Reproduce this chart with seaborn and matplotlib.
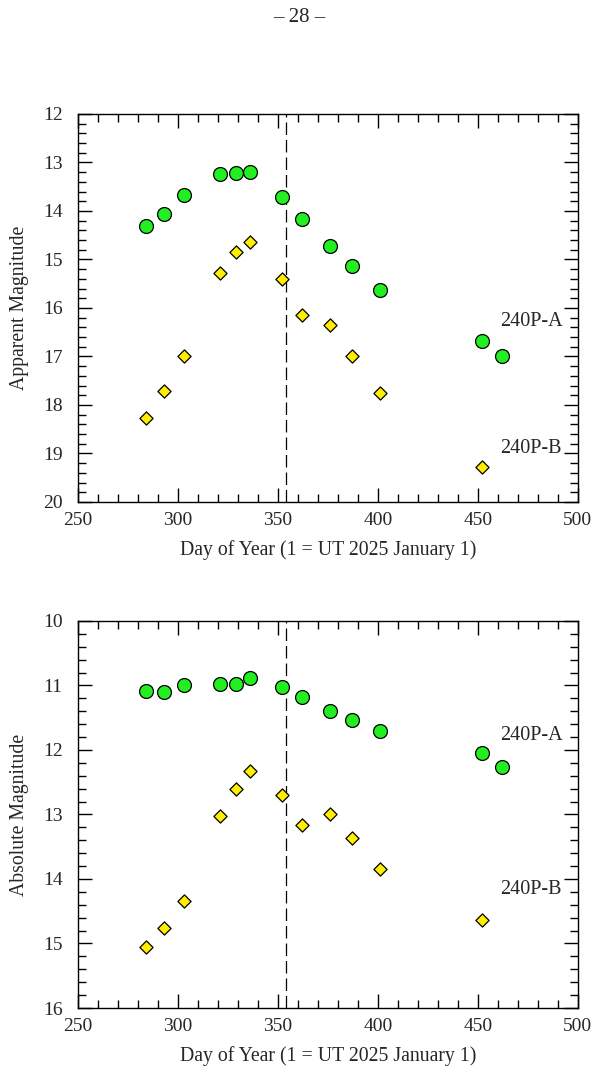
import pandas as pd
import seaborn as sns
import matplotlib.pyplot as plt
from matplotlib.ticker import MultipleLocator

# Datos (día del año, magnitudes)
dias_a = [284, 293, 303, 321, 329, 336, 352, 362, 376, 387, 401, 452, 462]
dias_b = [284, 293, 303, 321, 329, 336, 352, 362, 376, 387, 401, 452]

aparente_a = [14.31, 14.07, 13.68, 13.23, 13.21, 13.20, 13.72, 14.16, 14.73, 15.14, 15.63, 16.69, 17.00]
aparente_b = [18.27, 17.72, 17.00, 15.28, 14.84, 14.65, 15.40, 16.14, 16.35, 16.99, 17.76, 19.28]

absoluta_a = [11.08, 11.10, 10.99, 10.97, 10.98, 10.88, 11.02, 11.18, 11.39, 11.53, 11.71, 12.05, 12.26]
absoluta_b = [15.06, 14.76, 14.34, 13.03, 12.60, 12.32, 12.70, 13.16, 12.99, 13.37, 13.85, 14.64]

dia_linea = 354
paneles = [
    ("Apparent Magnitude", aparente_a, aparente_b, (20, 12), 16.28, 18.89),
    ("Absolute Magnitude", absoluta_a, absoluta_b, (16, 10), 11.78, 14.16),
]

sns.set_style("ticks")
plt.rcParams['font.family'] = ['Liberation Serif', 'DejaVu Serif']

fig = plt.figure(figsize=(5.98, 10.79), dpi=100)
fig.text(0.5, 1 - 17 / 1079, "\u2013 28 \u2013", ha="center", va="center", fontsize=15)

posiciones = [[0.1304, 0.5348, 0.836, 0.3596], [0.1304, 0.0658, 0.836, 0.3587]]

for pos, (ylab, mag_a, mag_b, ylim, ya, yb) in zip(posiciones, paneles):
    ax = fig.add_axes(pos)
    df_a = pd.DataFrame({"dia": dias_a, "mag": mag_a})
    df_b = pd.DataFrame({"dia": dias_b, "mag": mag_b})
    ax.axvline(dia_linea, color="black", lw=0.9, dashes=(10, 4), zorder=1)
    sns.scatterplot(data=df_a, x="dia", y="mag", ax=ax, marker="o", s=100,
                    color="#22ee22", edgecolor="black", linewidth=0.9, zorder=3)
    sns.scatterplot(data=df_b, x="dia", y="mag", ax=ax, marker="D", s=45,
                    color="#ffee00", edgecolor="black", linewidth=0.9, zorder=3)
    ax.text(461, ya, "240P-A", fontsize=14.5, va="center", ha="left")
    ax.text(461, yb, "240P-B", fontsize=14.5, va="center", ha="left")

    ax.set_xlim(250, 500)
    ax.set_ylim(*ylim)
    ax.xaxis.set_major_locator(MultipleLocator(50))
    ax.xaxis.set_minor_locator(MultipleLocator(10))
    ax.yaxis.set_major_locator(MultipleLocator(1))
    ax.yaxis.set_minor_locator(MultipleLocator(0.2))
    ax.tick_params(which="both", direction="in", top=True, right=True,
                   width=1.0, labelsize=14, color="black")
    ax.tick_params(axis="x", pad=7)
    ax.tick_params(axis="y", pad=11)
    ax.tick_params(which="major", length=10)
    ax.tick_params(which="minor", length=6)
    for sp in ax.spines.values():
        sp.set_linewidth(1.0)
        sp.set_color("black")
    ax.set_xlabel("Day of Year (1 = UT 2025 January 1)", fontsize=14.2, labelpad=8)
    ax.set_ylabel(ylab, fontsize=14.2, labelpad=10)

fig.savefig("out.png", dpi=100)
